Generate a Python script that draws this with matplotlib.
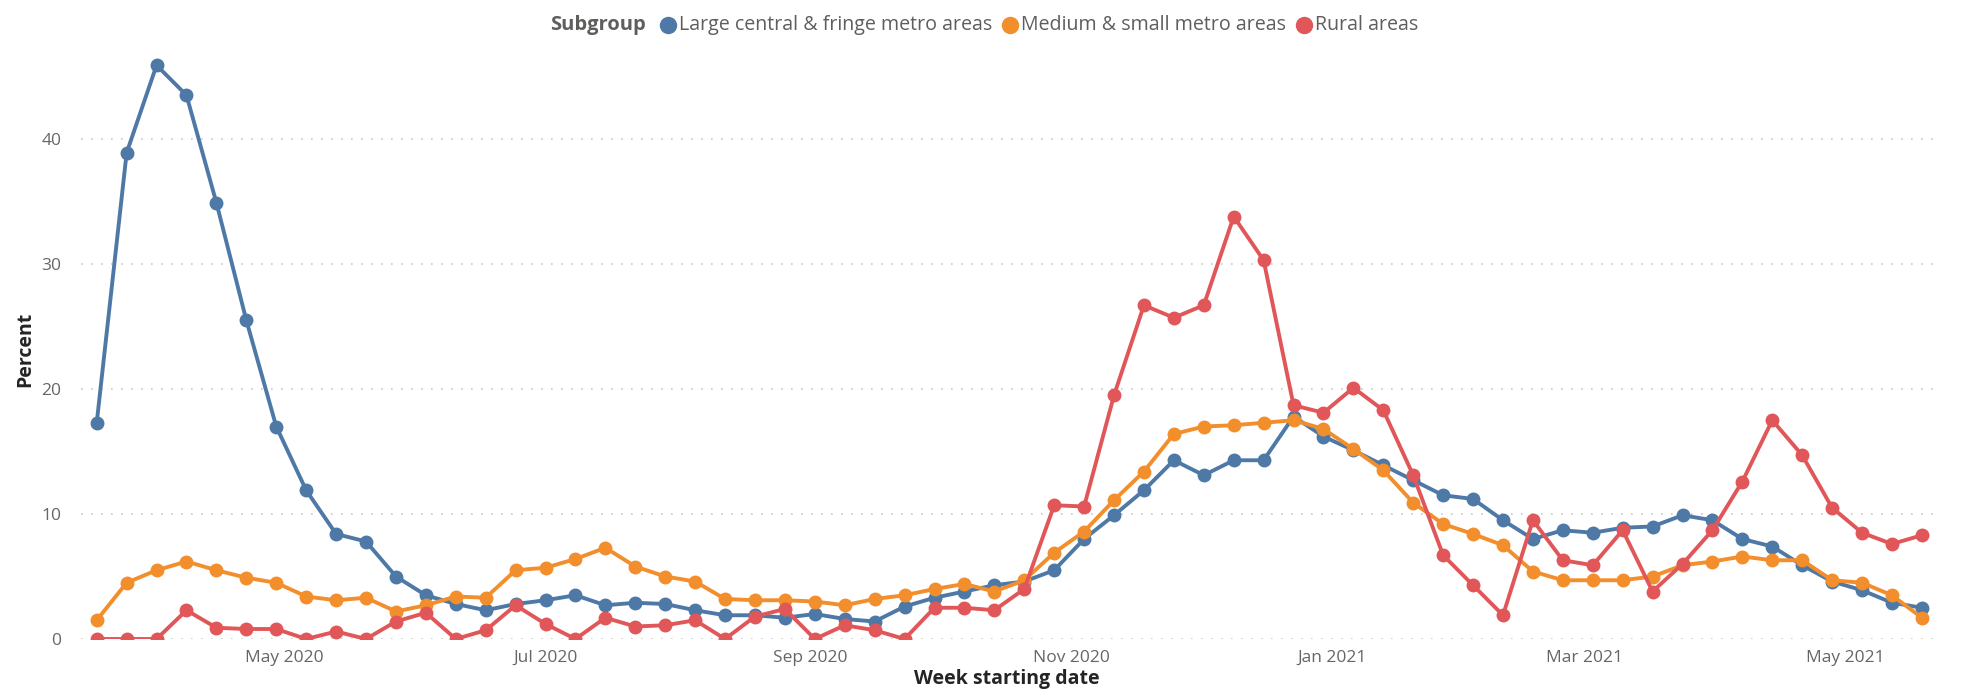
import matplotlib
matplotlib.use("Agg")
import matplotlib.pyplot as plt
from matplotlib.lines import Line2D
import numpy as np
import pandas as pd

# ---------------- data ----------------
start_date = "2020-03-18"
n_weeks = 62
series_names = ["Large central & fringe metro areas",
                "Medium & small metro areas",
                "Rural areas"]

large_metro = [17.3, 38.9, 45.9, 43.5, 34.9, 25.5, 17.0, 11.9, 8.4, 7.8,
               5.0, 3.5, 2.8, 2.3, 2.8, 3.1, 3.5, 2.7, 2.9, 2.8,
               2.3, 1.9, 1.9, 1.7, 2.0, 1.6, 1.4, 2.6, 3.3, 3.8,
               4.3, 4.6, 5.5, 8.0, 9.9, 11.9, 14.3, 13.1, 14.3, 14.3,
               17.8, 16.2, 15.1, 13.9, 12.7, 11.5, 11.2, 9.5, 8.0, 8.7,
               8.5, 8.9, 9.0, 9.9, 9.5, 8.0, 7.4, 5.9, 4.6, 3.9,
               2.9, 2.5]
medium_small = [1.5, 4.5, 5.5, 6.2, 5.5, 4.9, 4.5, 3.4, 3.1, 3.3,
                2.2, 2.7, 3.4, 3.3, 5.5, 5.7, 6.4, 7.3, 5.8, 5.0,
                4.6, 3.2, 3.1, 3.1, 3.0, 2.7, 3.2, 3.5, 4.0, 4.4,
                3.8, 4.7, 6.9, 8.6, 11.1, 13.4, 16.4, 17.0, 17.1, 17.3,
                17.5, 16.8, 15.2, 13.5, 10.9, 9.2, 8.4, 7.5, 5.4, 4.7,
                4.7, 4.7, 5.0, 5.9, 6.2, 6.6, 6.3, 6.3, 4.7, 4.5,
                3.5, 1.7]
rural = [0.0, 0.0, 0.0, 2.3, 0.9, 0.8, 0.8, 0.0, 0.6, 0.0,
         1.4, 2.1, 0.0, 0.7, 2.7, 1.2, 0.0, 1.7, 1.0, 1.1,
         1.5, 0.0, 1.8, 2.4, 0.0, 1.1, 0.7, 0.0, 2.5, 2.5,
         2.3, 4.0, 10.7, 10.6, 19.5, 26.7, 25.7, 26.7, 33.8, 30.3,
         18.7, 18.1, 20.1, 18.3, 13.1, 6.7, 4.3, 1.9, 9.5, 6.3,
         5.9, 8.7, 3.8, 6.0, 8.7, 12.6, 17.5, 14.7, 10.5, 8.5,
         7.6, 8.3]

y_ticks = [0, 10, 20, 30, 40]
x_tick_dates = ["2020-05-01", "2020-07-01", "2020-09-01", "2020-11-01",
                "2021-01-01", "2021-03-01", "2021-05-01"]
x_tick_labels = ["May 2020", "Jul 2020", "Sep 2020", "Nov 2020",
                 "Jan 2021", "Mar 2021", "May 2021"]

colors = ["#4E79A7", "#F28E2B", "#E15759"]

# ---------------- figure ----------------
plt.rcParams['font.family'] = ['Open Sans', 'DejaVu Sans']
W, H = 1966, 694
fig = plt.figure(figsize=(W / 100, H / 100), dpi=100)
ax_left, ax_right, ax_bottom, ax_top = 80.7, 1933, 639, 45
ax = fig.add_axes([ax_left / W, 1 - ax_bottom / H,
                   (ax_right - ax_left) / W, (ax_bottom - ax_top) / H])

dates = pd.date_range(start_date, periods=n_weeks, freq="7D")
x = dates.values.astype("datetime64[D]").astype(float)

for vals, c, name in zip([large_metro, medium_small, rural], colors, series_names):
    ax.plot(x, vals, color=c, lw=2.8, marker="o", ms=9, mec=c, mfc=c,
            label=name, solid_joinstyle="round", zorder=3)

ax.set_ylim(0, (ax_bottom - ax_top) / 12.5)
ax.set_xlim(x[0] - 3.75, x[-1] + 2.6)

ax.set_yticks(y_ticks)
ax.set_yticklabels([str(v) for v in y_ticks])
tick_x = pd.to_datetime(x_tick_dates).values.astype("datetime64[D]").astype(float)
ax.set_xticks(tick_x)
ax.set_xticklabels(x_tick_labels)

ax.tick_params(axis="both", length=0, labelsize=12.5, labelcolor="#666666")
ax.tick_params(axis="y", pad=14)
ax.tick_params(axis="x", pad=8)

for yv in y_ticks:
    ax.axhline(yv, color="#c8c8c8", lw=1.2, ls=(0, (1, 5)), zorder=1)

for s in ax.spines.values():
    s.set_visible(False)

ax.set_xlabel("Week starting date", fontsize=14, fontweight="bold",
              color="#252423", labelpad=2)
fig.text(25 / W, 1 - 349 / H, "Percent", rotation=90, fontsize=14,
         fontweight="bold", color="#252423", ha="center", va="center")

# legend (laid out manually, Power BI style: title on the left)
leg_y = 1 - 25 / H
fig.text(646 / W, leg_y, "Subgroup", fontsize=14.5, fontweight="bold",
         color="#605E5C", ha="right", va="center")
renderer = fig.canvas.get_renderer()
x_cur = 660.0
dot_d = 16.0
for name, c in zip(series_names, colors):
    fig.add_artist(Line2D([(x_cur + dot_d / 2) / W], [leg_y], ls="none",
                          marker="o", ms=dot_d * 0.72, color=c,
                          transform=fig.transFigure))
    t = fig.text((x_cur + dot_d + 3) / W, leg_y, name, fontsize=14.1,
                 color="#605E5C", ha="left", va="center")
    bb = t.get_window_extent(renderer)
    x_cur = bb.x1 + 10

fig.savefig("out.png", dpi=100)
